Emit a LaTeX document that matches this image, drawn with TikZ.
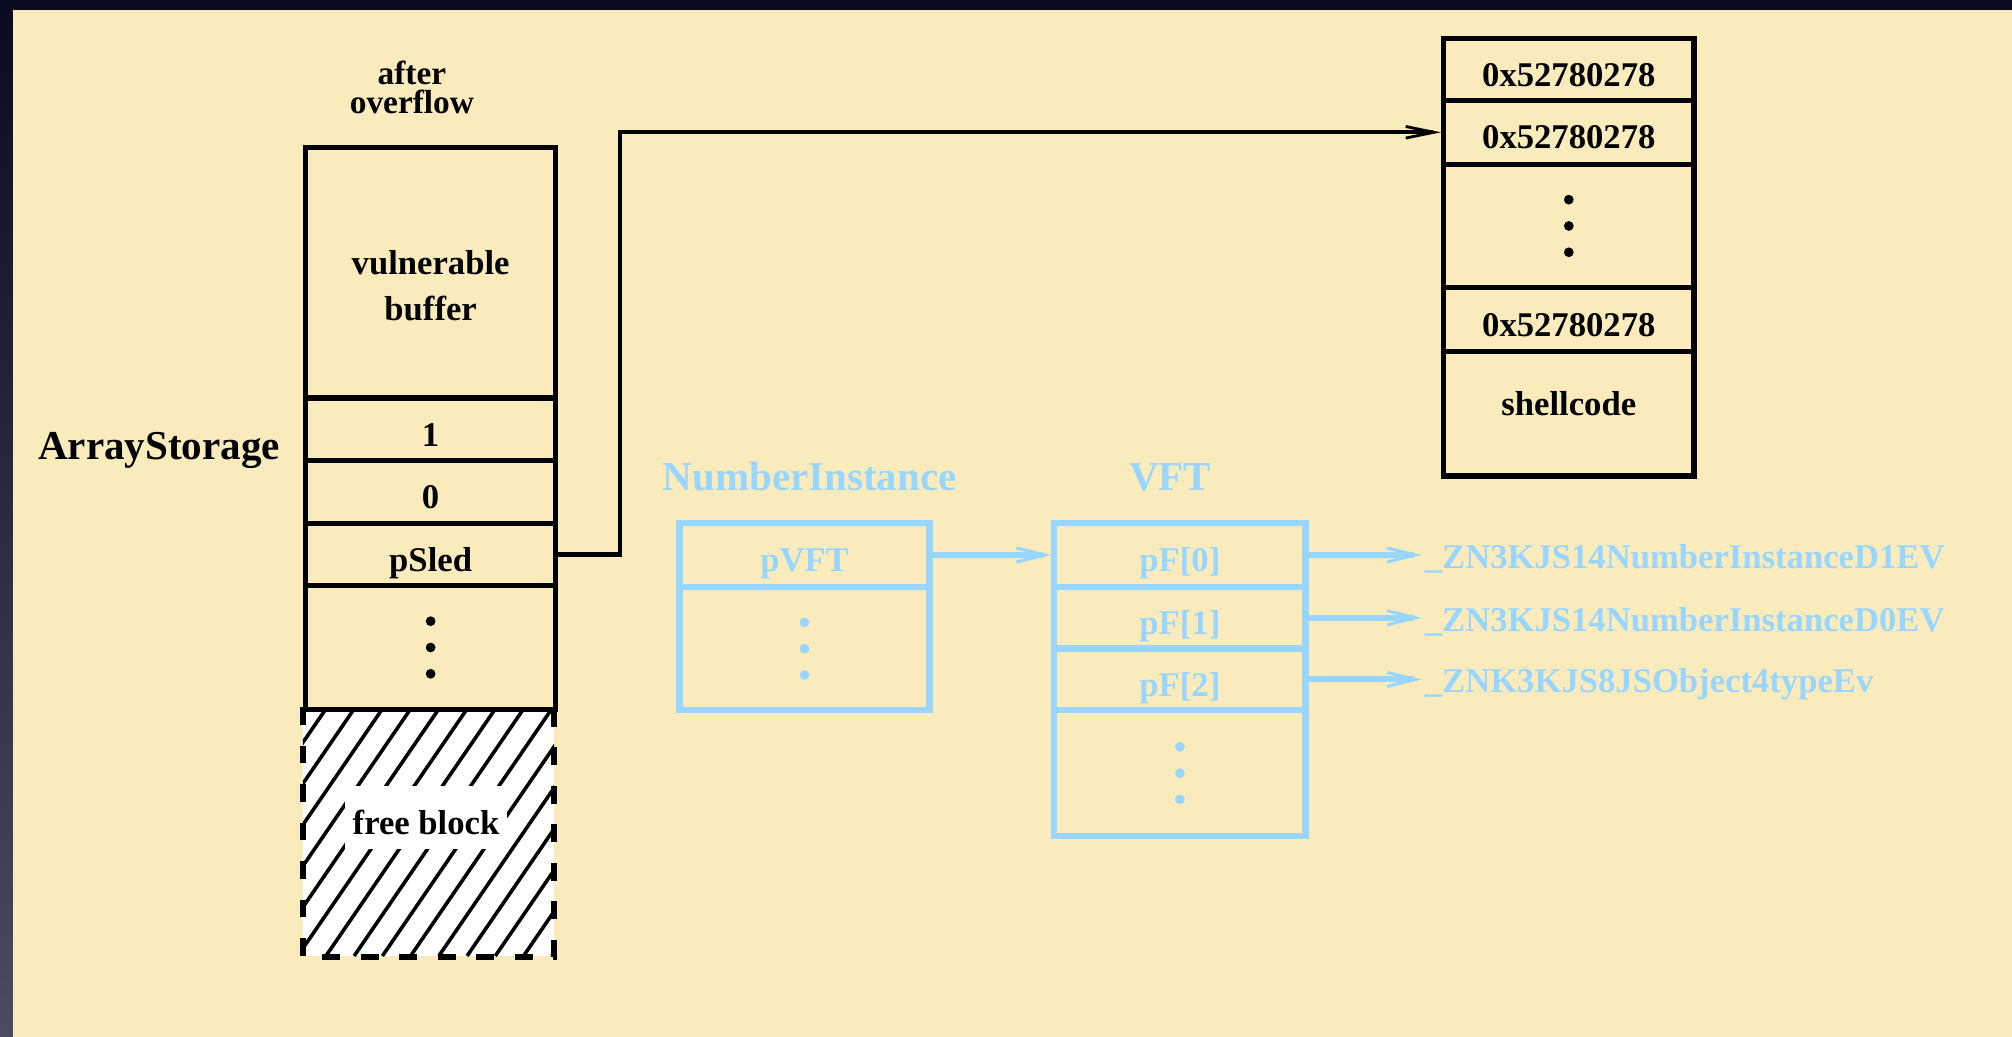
\documentclass[tikz,border=0pt]{standalone}
\usepackage{fontspec}
\setmainfont{Liberation Serif}
\usetikzlibrary{arrows.meta}
\definecolor{bgyellow}{HTML}{F9EBBC}
\definecolor{framenavy}{HTML}{0B0B1F}
\definecolor{framegray}{HTML}{4C4B60}
\definecolor{lblue}{HTML}{99D6FF}
\newcommand\labfont{\fontsize{13.5pt}{16pt}\selectfont\bfseries}
\newcommand\titfont{\fontsize{16pt}{18pt}\selectfont\bfseries}
\begin{document}
\begin{tikzpicture}[x=0.5pt,y=-0.5pt,
  cell/.style={draw, line width=2.1pt, anchor=north west, minimum width=97.5pt,
    inner sep=0pt, font=\labfont, text height=13pt, text depth=0pt},
  bcell/.style={cell, draw=lblue, text=lblue, line width=2.5pt},
  link/.style={line width=1.7pt, -{Straight Barb[length=11pt,width=4.5pt,line width=1.1pt]}},
  blink/.style={draw=lblue, line width=2.3pt, -{Straight Barb[length=11pt,width=5.5pt,line width=1.2pt]}},
  sym/.style={font=\labfont, text=lblue, anchor=base west, inner sep=0pt},
  title/.style={font=\titfont, anchor=base, inner sep=0pt},
  hatch/.style={line width=1.4pt},
]
\useasboundingbox (0,0) rectangle (1568,808);
\fill[bgyellow] (0,0) rectangle (1568,808);
\shade[top color=framenavy, bottom color=framegray] (0,0) rectangle (10,808);
\fill[framenavy] (0,0) rectangle (1568,8);

% ---------------- ArrayStorage column ----------------
\node[title] (astitle) at (124,358) {ArrayStorage};
\node[font={\fontsize{13pt}{11.5pt}\selectfont\bfseries}, align=center, inner sep=0pt] (after) at (321,68) {after\\overflow};

% free block (hatched)
\node[anchor=north west, minimum width=97.5pt, minimum height=97pt, inner sep=0pt, fill=white] (free) at (236,551) {};
\begin{scope}
  \clip (free.south west) rectangle (free.north east);
  \foreach \s in {-180,-158,...,220} \draw[hatch] (236+\s,745) -- ++(133,-194);
\end{scope}
\node[fill=white, font=\labfont, minimum width=63pt, minimum height=24.5pt, inner sep=0pt,
      text height=13pt, text depth=0pt] (freetext) at (332,637) {free block};
\draw[line width=2.1pt, dash pattern=on 7pt off 8pt] (free.north west) -- (free.south west) -- (free.south east) -- (free.north east);

\node[cell, minimum height=97.5pt] (buf) at (236,113) {};
\node[font={\fontsize{13.5pt}{18pt}\selectfont\bfseries}, align=center, yshift=-5pt] (buftext) at (buf.center) {vulnerable\\buffer};
\node[cell, minimum height=24.5pt] (c1) at (236,308) {1};
\node[cell, minimum height=24.5pt] (c0) at (236,357) {0};
\node[cell, minimum height=24pt] (psled) at (236,406) {pSled};
\node[cell, minimum height=48.5pt] (cdots) at (236,454) {};
\fill ([yshift=10.25pt]cdots.center) circle[radius=1.9pt]
      (cdots.center) circle[radius=1.9pt]
      ([yshift=-10.25pt]cdots.center) circle[radius=1.9pt];

% ---------------- sled / shellcode column ----------------
\node[cell, minimum height=24pt] (s1) at (1123,28) {0x52780278};
\node[cell, minimum height=25pt] (s2) at (1123,76) {0x52780278};
\node[cell, minimum height=48pt] (s3) at (1123,126) {};
\fill ([yshift=10.25pt]s3.center) circle[radius=1.9pt]
      (s3.center) circle[radius=1.9pt]
      ([yshift=-10.25pt]s3.center) circle[radius=1.9pt];
\node[cell, minimum height=25pt] (s4) at (1123,222) {0x52780278};
\node[cell, minimum height=48.5pt, text height=1pt] (shell) at (1123,272) {shellcode};

\draw[link] (psled.east) -- ++(48,0) |- (s2.west);

% ---------------- NumberInstance / VFT ----------------
\node[title, text=lblue] (nititle) at (631,382) {NumberInstance};
\node[title, text=lblue] (vfttitle) at (912,382) {VFT};

\node[bcell, minimum height=25pt] (pvft) at (527,405) {pVFT\hspace{14pt}};
\node[bcell, minimum height=48pt] (pdots) at (527,455) {};
\fill[lblue] ([yshift=10.25pt]pdots.center) circle[radius=1.9pt]
      (pdots.center) circle[radius=1.9pt]
      ([yshift=-10.25pt]pdots.center) circle[radius=1.9pt];

\node[bcell, minimum width=98pt, minimum height=25pt] (vft0) at (819,405) {pF[0]\hspace{12pt}};
\node[bcell, minimum width=98pt, minimum height=24pt] (vft1) at (819,455) {pF[1]\hspace{12pt}};
\node[bcell, minimum width=98pt, minimum height=24pt] (vft2) at (819,503) {pF[2]\hspace{12pt}};
\node[bcell, minimum width=98pt, minimum height=49pt] (vftd) at (819,551) {};
\fill[lblue] ([yshift=10.25pt]vftd.center) circle[radius=1.9pt]
      (vftd.center) circle[radius=1.9pt]
      ([yshift=-10.25pt]vftd.center) circle[radius=1.9pt];

\node[sym] (sym0) at (1110,443) {\_ZN3KJS14NumberInstanceD1EV};
\node[sym] (sym1) at (1110,492) {\_ZN3KJS14NumberInstanceD0EV};
\node[sym] (sym2) at (1110,540) {\_ZNK3KJS8JSObject4typeEv};

\draw[blink] (pvft.east) -- (vft0.west);
\draw[blink, shorten >=1pt] (vft0.east) -- (vft0.east -| sym0.west);
\draw[blink, shorten >=1pt] (vft1.east) -- (vft1.east -| sym1.west);
\draw[blink, shorten >=1pt] (vft2.east) -- (vft2.east -| sym2.west);
\end{tikzpicture}
\end{document}
